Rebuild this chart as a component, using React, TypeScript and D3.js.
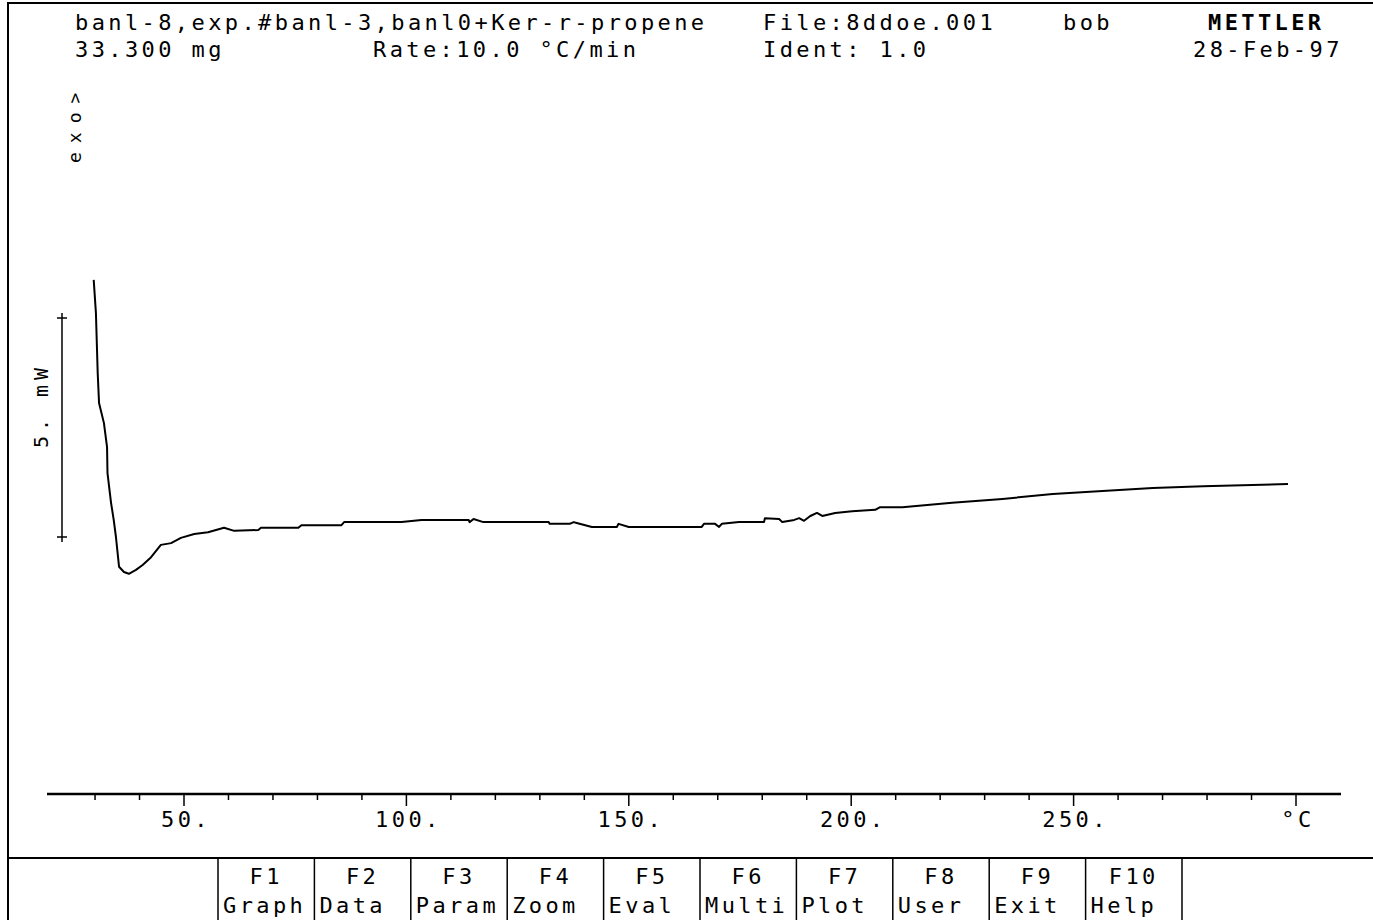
import * as d3 from "d3";

// DSC run, temperature in °C and heat flow in mW (exo up)
const temps = [
  29.7, 30.2, 30.6, 30.9, 32.0, 32.7, 32.8, 33.6, 34.2, 34.7, 35.4, 36.5, 37.6,
  39.2, 40.7, 42.6, 44.8, 47.1, 49.3, 52.3, 55.4, 59.0, 61.3, 66.7, 67.3, 75.7,
  76.4, 85.4, 86.0, 98.9, 103.4, 114.0, 114.2, 115.1, 117.3, 132.0, 132.2,
  136.7, 137.6, 138.3, 141.7, 147.3, 147.7, 150.0, 166.4, 166.9, 169.4, 170.3,
  170.9, 174.8, 180.4, 180.6, 183.8, 184.5, 187.2, 188.3, 189.4, 190.8, 192.3,
  193.5, 196.4, 200.2, 205.4, 206.5, 211.5, 222.7, 234.0, 245.3, 256.5, 267.8,
  279.1, 298.2,
];
const heatFlow = [
  5.87, 5.11, 3.74, 3.06, 2.6, 2.05, 1.46, 0.78, 0.39, 0.0, -0.68, -0.8, -0.84,
  -0.75, -0.64, -0.46, -0.18, -0.14, -0.02, 0.07, 0.11, 0.21, 0.14, 0.16, 0.21,
  0.21, 0.27, 0.27, 0.34, 0.34, 0.39, 0.39, 0.34, 0.41, 0.34, 0.34, 0.3, 0.3,
  0.34, 0.32, 0.23, 0.23, 0.3, 0.23, 0.23, 0.3, 0.3, 0.23, 0.3, 0.34, 0.34,
  0.43, 0.41, 0.34, 0.39, 0.43, 0.37, 0.48, 0.55, 0.48, 0.55, 0.59, 0.62, 0.68,
  0.68, 0.78, 0.87, 0.98, 1.05, 1.12, 1.16, 1.21,
];

const majorTicks = [50, 100, 150, 200, 250, 300];
const majorLabels = ["50.", "100.", "150.", "200.", "250.", "°C"];
const scaleBarMw = [0, 5];

const headerLeft = ["banl-8,exp.#banl-3,banl0+Ker-r-propene", "33.300 mg"];
const headerMid = ["", "Rate:10.0 °C/min"];
const headerFile = ["File:8ddoe.001", "Ident: 1.0"];
const headerUser = ["bob", ""];
const headerRight = ["METTLER", "28-Feb-97"];

const fKeys = ["F1", "F2", "F3", "F4", "F5", "F6", "F7", "F8", "F9", "F10"];
const fNames = ["Graph", "Data", "Param", "Zoom", "Eval", "Multi", "Plot", "User", "Exit", "Help"];

const W = 1373;
const H = 920;
const font = "'DejaVu Sans Mono', monospace";

export default function App() {
  const x = d3.scaleLinear().domain([50, 300]).range([184, 1296]);
  const y = d3.scaleLinear().domain([0, 5]).range([537, 318]);

  const pts = temps.map((t, i) => [t, heatFlow[i]] as [number, number]);
  const line = d3
    .line<[number, number]>()
    .x((d) => x(d[0]))
    .y((d) => y(d[1]));

  const minorTicks = d3.range(30, 301, 10);
  const axisY = 794;

  const keyX = d3.scaleLinear().domain([0, 10]).range([218, 1182]);

  const txt = {
    fontFamily: font,
    fontSize: 22,
    letterSpacing: 3.4,
    fill: "#000",
  } as const;

  const barX = 62;

  return (
    <svg
      width={W}
      height={H}
      style={{ position: "absolute", left: 0, top: 0, background: "#fff" }}
    >
      {/* frame */}
      <line x1={8} y1={3} x2={W} y2={3} stroke="#000" strokeWidth={2} />
      <line x1={8} y1={2} x2={8} y2={H} stroke="#000" strokeWidth={2} />
      <line x1={8} y1={858} x2={W} y2={858} stroke="#000" strokeWidth={2} />

      {/* header */}
      {[0, 1].map((r) => (
        <g key={r} {...txt}>
          <text x={75} y={30 + r * 27}>{headerLeft[r]}</text>
          <text x={373} y={30 + r * 27}>{headerMid[r]}</text>
          <text x={763} y={30 + r * 27}>{headerFile[r]}</text>
          <text x={1063} y={30 + r * 27}>{headerUser[r]}</text>
          <text
            x={r === 0 ? 1208 : 1193}
            y={30 + r * 27}
            fontWeight={r === 0 ? "bold" : "normal"}
          >
            {headerRight[r]}
          </text>
        </g>
      ))}

      {/* exo label */}
      <text
        transform="translate(81,163) rotate(-90)"
        fontFamily={font}
        fontSize={18}
        letterSpacing={9}
      >
        exo&gt;
      </text>

      {/* scale bar */}
      <line x1={barX} x2={barX} y1={y(scaleBarMw[1]) - 5} y2={y(scaleBarMw[0]) + 5} stroke="#000" strokeWidth={1.5} />
      {scaleBarMw.map((v) => (
        <line key={v} x1={barX - 5} x2={barX + 5} y1={y(v)} y2={y(v)} stroke="#000" strokeWidth={1.5} />
      ))}
      <text
        transform={`translate(48,${(y(0) + y(5)) / 2 - 22}) rotate(-90)`}
        textAnchor="middle"
        fontFamily={font}
        fontSize={20}
        letterSpacing={5}
      >
        5. mW
      </text>

      {/* curve */}
      <path d={line(pts) || ""} fill="none" stroke="#000" strokeWidth={2} strokeLinejoin="round" />

      {/* x axis */}
      <line x1={47} x2={1341} y1={axisY} y2={axisY} stroke="#000" strokeWidth={2.5} />
      {minorTicks.map((t) => (
        <line
          key={t}
          x1={x(t)}
          x2={x(t)}
          y1={axisY}
          y2={axisY + (t % 50 === 0 ? 12 : 6)}
          stroke="#000"
          strokeWidth={1.5}
        />
      ))}
      {majorTicks.map((t, i) => (
        <text key={t} x={x(t) + 2} y={827} textAnchor="middle" {...txt}>
          {majorLabels[i]}
        </text>
      ))}

      {/* function key bar */}
      {d3.range(0, 11).map((i) => (
        <line key={i} x1={keyX(i)} x2={keyX(i)} y1={858} y2={H} stroke="#000" strokeWidth={1.5} />
      ))}
      {fKeys.map((k, i) => (
        <g key={k} {...txt}>
          <text x={(keyX(i) + keyX(i + 1)) / 2} y={884} textAnchor="middle">
            {k}
          </text>
          <text x={keyX(i) + 5} y={913}>{fNames[i]}</text>
        </g>
      ))}
    </svg>
  );
}
